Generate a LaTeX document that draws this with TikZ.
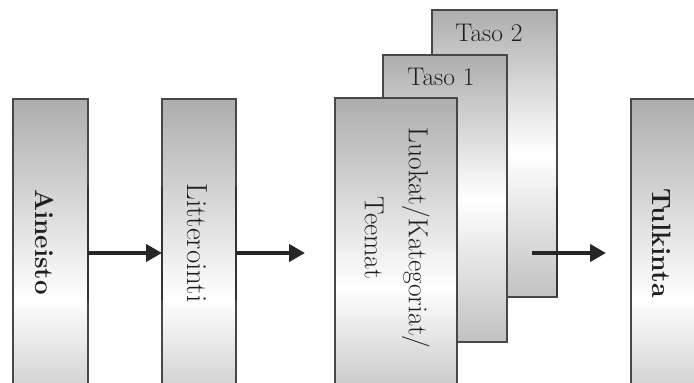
\documentclass[tikz,border=0pt]{standalone}
\usepackage{fontspec}
\usetikzlibrary{arrows.meta}
\begin{document}
\begin{tikzpicture}[x=1pt,y=-1pt,
  panel/.style={draw=black!72, line width=1.3pt, shade, top color=black!32,
    bottom color=black!24, middle color=white, anchor=north west,
    inner sep=0pt, outer sep=0pt},
  tall/.style={panel, minimum height=400pt, bottom color=black!40, middle color=white},
  lbl/.style={rotate=-90, text=black!88, inner sep=0pt, align=center},
  flow/.style={draw=black!85, line width=4.5pt,
    -{Triangle[length=16pt,width=17pt]}},
  edgemark/.style={draw=black!80, line width=2.4pt}]
\useasboundingbox (0,0) rectangle (694,383);
\clip (0,0) rectangle (694,383);

% process stages (the tall ones run past the lower edge)
\node[tall, minimum width=75pt] (aineisto) at (13,99) {};
\node[tall, minimum width=74pt] (litt) at (162,99) {};
\node[panel, minimum width=125pt, minimum height=287pt] (taso2) at (432,10) {};
\node[panel, minimum width=124pt, minimum height=287pt] (taso1) at (383,55) {};
\node[tall, minimum width=122pt, minimum height=380pt] (luokat) at (335,98) {};
\node[tall, minimum width=120pt] (tulkinta) at (631,99) {};

% heavier stretches of the side edges beside the arrows
\coordinate (mtop) at (0,187);
\coordinate (mbot) at (0,300);
\draw[edgemark] (aineisto.east |- mtop) -- (aineisto.east |- mbot);
\draw[edgemark] (litt.west |- mtop) -- (litt.west |- mbot);
\draw[edgemark] (litt.east |- mtop) -- (litt.east |- mbot);
\draw[edgemark] (taso2.east |- mtop) -- (taso2.south east);

% labels
\node[lbl, font=\fontsize{26}{30}\selectfont\bfseries] (t1) at (45,242) {Aineisto};
\node[lbl, font=\fontsize{29}{34}\selectfont] (t2) at (197,243) {Litterointi};
\node[lbl, font=\fontsize{27.5}{44}\selectfont] (t3) at (397,238) {Luokat/Kategoriat/\\Teemat};
\node[lbl, font=\fontsize{26.5}{30}\selectfont\bfseries] (t4) at (662,243) {Tulkinta};
\node[text=black!88, font=\fontsize{25.5}{30}\selectfont, anchor=base] (l1) at (441,85) {Taso 1};
\node[text=black!88, font=\fontsize{25.5}{30}\selectfont, anchor=base] (l2) at (489,41) {Taso 2};

% arrows between stages
\coordinate (a2end) at (305,253);
\coordinate (a3start) at (532,253);
\coordinate (a3end) at (606,253);
\draw[flow] (aineisto.east |- a2end) -- (litt.west |- a2end);
\draw[flow] (litt.east |- a2end) -- (a2end);
\draw[flow] (a3start) -- (a3end);
\end{tikzpicture}
\end{document}
